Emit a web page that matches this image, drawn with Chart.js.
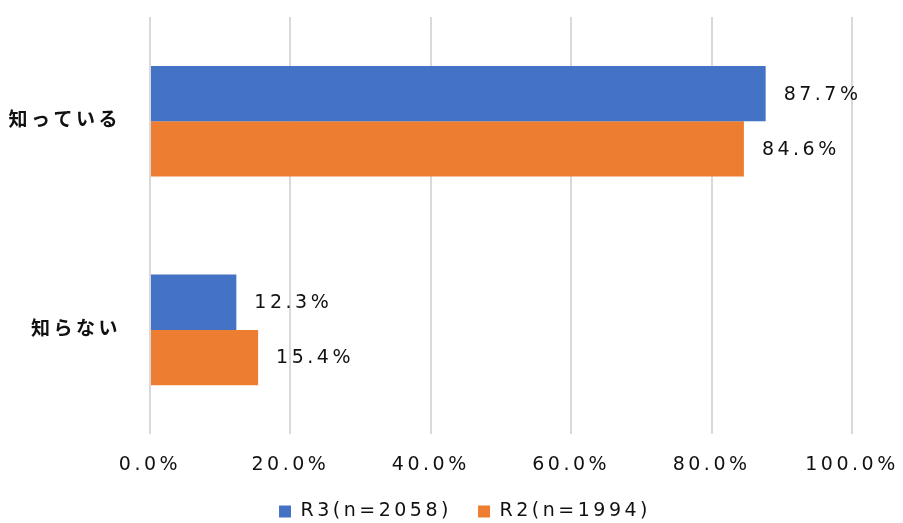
<!DOCTYPE html>
<html>
<head>
<meta charset="utf-8">
<script src="https://cdn.jsdelivr.net/npm/chart.js@4"></script>
<style>
  html, body { margin: 0; padding: 0; background: #fff; }
  #wrap { width: 903px; height: 523px; }
</style>
</head>
<body>
<div id="wrap"><canvas id="chart" width="903" height="523"></canvas></div>
<script>
// --- data ---
const categories = ['知っている', '知らない'];
const seriesNames = ['R3(n=2058)', 'R2(n=1994)'];
const r3Values = [87.7, 12.3];
const r2Values = [84.6, 15.4];
const xTicks = [0, 20, 40, 60, 80, 100];

const FONT = '"DejaVu Sans", "Noto Sans CJK JP", sans-serif';
const SPACING = '3.5px';
const TEXT = '#111';

// wide letter spacing like the original (canvas state, so set before layout and draw)
// and nudge the legend a bit to the right
const spacing = {
    id: 'spacing',
    beforeLayout(chart) { chart.ctx.letterSpacing = SPACING; },
    afterLayout(chart) {
        chart.legend.left = 39;
        chart.legend.right = 852 + 39;
    },
    beforeDraw(chart) { chart.ctx.letterSpacing = SPACING; }
};

// draws the value labels to the right of each bar
const barLabels = {
    id: 'barLabels',
    afterDatasetsDraw(chart) {
        const ctx = chart.ctx;
        ctx.save();
        ctx.letterSpacing = SPACING;
        ctx.font = '19px ' + FONT;
        ctx.fillStyle = TEXT;
        ctx.textAlign = 'left';
        ctx.textBaseline = 'middle';
        chart.data.datasets.forEach((ds, i) => {
            chart.getDatasetMeta(i).data.forEach((bar, j) => {
                ctx.fillText(ds.data[j].toFixed(1) + '%', bar.x + 18, bar.y + 1);
            });
        });
        ctx.restore();
    }
};

new Chart(document.getElementById('chart'), {
    type: 'bar',
    data: {
        labels: categories,
        datasets: [
            { label: seriesNames[0], data: r3Values, backgroundColor: '#4472C4' },
            { label: seriesNames[1], data: r2Values, backgroundColor: '#ED7D31' }
        ]
    },
    options: {
        indexAxis: 'y',
        responsive: false,
        animation: false,
        layout: { padding: { top: 17, right: 51, left: 0, bottom: -8 } },
        datasets: { bar: { categoryPercentage: 0.53, barPercentage: 1.0 } },
        plugins: {
            tooltip: { enabled: false },
            legend: {
                position: 'bottom',
                labels: {
                    boxWidth: 12,
                    boxHeight: 12,
                    color: TEXT,
                    padding: 7,
                    font: { family: FONT, size: 19 },
                    generateLabels: chart => {
                        const items = Chart.defaults.plugins.legend.labels.generateLabels(chart);
                        items[0].text += '  ';
                        return items;
                    }
                }
            }
        },
        scales: {
            x: {
                min: 0,
                max: 100,
                afterBuildTicks: axis => { axis.ticks = xTicks.map(v => ({ value: v })); },
                afterFit: axis => {
                    axis.paddingLeft = 0;
                    axis.paddingRight = 0;
                },
                grid: { color: '#d9d9d9', lineWidth: 2, drawTicks: false },
                border: { display: false },
                ticks: {
                    padding: 19,
                    color: TEXT,
                    font: { family: FONT, size: 19 },
                    callback: v => v.toFixed(1) + '%'
                }
            },
            y: {
                grid: { display: false },
                border: { display: false },
                afterFit: axis => {
                    axis.width = 150;
                    axis.paddingTop = 0;
                    axis.paddingBottom = 0;
                },
                ticks: {
                    padding: 21,
                    color: TEXT,
                    font: { family: FONT, size: 19, weight: 'bold' }
                }
            }
        }
    },
    plugins: [spacing, barLabels]
});
</script>
</body>
</html>
